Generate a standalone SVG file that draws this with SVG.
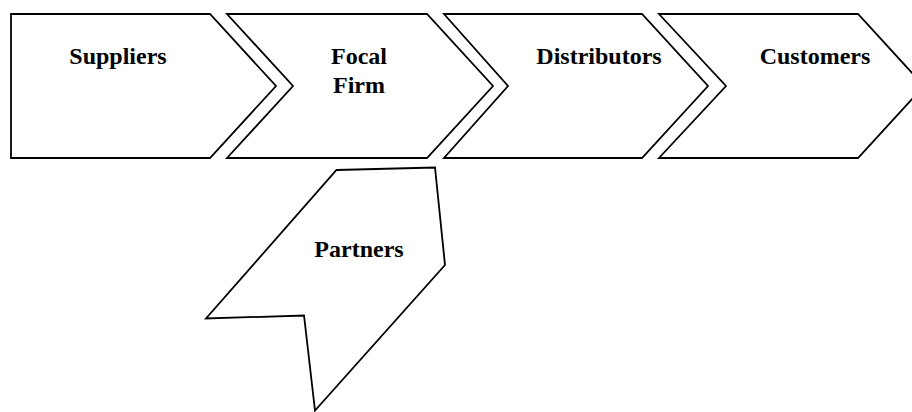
<svg xmlns="http://www.w3.org/2000/svg" width="912" height="412" viewBox="0 0 912 412">
<style>
.shape{fill:#fff;stroke:#000;stroke-width:1.8;stroke-linejoin:miter}
.lbl{font-family:"Liberation Serif","Times New Roman",serif;font-weight:bold;font-size:24px;fill:#000;text-anchor:middle}
</style>
<rect width="912" height="412" fill="#fff"/>
<g id="suppliers">
<polygon class="shape" points="11,14 210,14 276,86 210,158 11,158"/>
<text class="lbl" x="118" y="64">Suppliers</text>
</g>
<g id="focal-firm">
<polygon class="shape" points="227,14 427,14 493,86 427,158 227,158 293,86"/>
<text class="lbl" x="359" y="64">Focal</text>
<text class="lbl" x="359" y="93">Firm</text>
</g>
<g id="distributors">
<polygon class="shape" points="444,14 642,14 708,86 642,158 444,158 508,86"/>
<text class="lbl" x="599" y="64">Distributors</text>
</g>
<g id="customers">
<polygon class="shape" points="659,14 858,14 924,86 858,158 659,158 726,86"/>
<text class="lbl" x="815" y="64">Customers</text>
</g>
<g id="partners">
<polygon class="shape" points="336.5,170 435,167.5 445,265 315,410.5 304,315.5 206,318.5"/>
<text class="lbl" x="359" y="257">Partners</text>
</g>
</svg>
